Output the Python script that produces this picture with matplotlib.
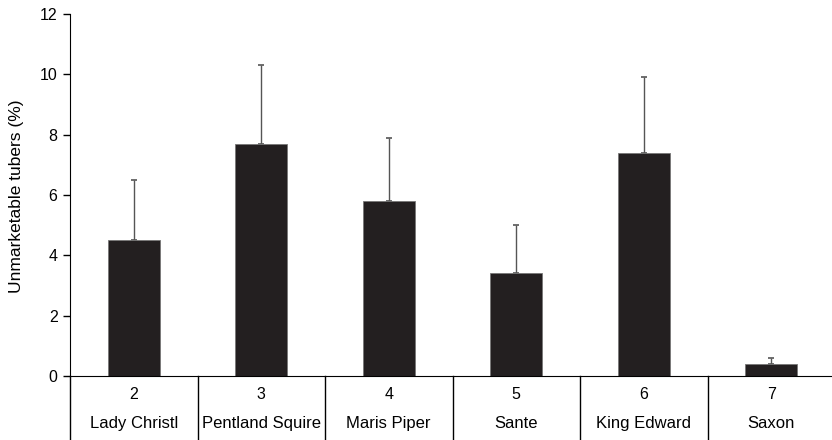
import numpy as np
import matplotlib
matplotlib.use("Agg")
import matplotlib.pyplot as plt

plt.rcParams['font.family'] = ['Liberation Sans', 'DejaVu Sans']

numbers = ['2', '3', '4', '5', '6', '7']
varieties = ['Lady Christl', 'Pentland Squire', 'Maris Piper', 'Sante', 'King Edward', 'Saxon']
values = [4.5, 7.7, 5.8, 3.4, 7.4, 0.4]
err_up = [2.0, 2.6, 2.1, 1.6, 2.5, 0.2]

fig = plt.figure(figsize=(8.32, 4.4), dpi=100)
ax = fig.add_axes([70 / 832, 64 / 440, 765 / 832, 362 / 440])

x = np.arange(len(values)) + 0.5
ax.bar(x, values, width=0.41, color='#231f20', edgecolor='#777777', linewidth=0.6, zorder=2)
ax.errorbar(x, values, yerr=[np.zeros(len(values)), err_up], fmt='none',
            ecolor='#555555', elinewidth=1.0, capsize=2.5, capthick=1.2, zorder=1)

ax.set_xlim(0, 6)
ax.set_ylim(0, 12)
ax.set_yticks(range(0, 13, 2))
ax.tick_params(axis='y', direction='out', length=5, width=1, labelsize=11.5, pad=4)
ax.tick_params(axis='x', length=0, labelbottom=False)
ax.spines['top'].set_visible(False)
ax.spines['right'].set_visible(False)
ax.spines['left'].set_color('black')
ax.spines['bottom'].set_color('black')

# extended y axis line and separators below the axis
ax.plot([0, 0], [0, -64 / 362], transform=ax.transAxes, color='black', lw=1, clip_on=False)
for b in range(1, 6):
    ax.plot([b / 6, b / 6], [0, -64 / 362], transform=ax.transAxes, color='black', lw=1, clip_on=False)

for i in range(len(values)):
    ax.text((i + 0.5) / 6, -18 / 362, numbers[i], transform=ax.transAxes,
            ha='center', va='center', fontsize=11.5)
    ax.text((i + 0.5) / 6, -47 / 362, varieties[i], transform=ax.transAxes,
            ha='center', va='center', fontsize=12)

ax.set_ylabel('Unmarketable tubers (%)', fontsize=12.5)
ax.yaxis.set_label_coords(-46 / 765, (376 - 196) / 362)

fig.savefig('out.png', dpi=100)
